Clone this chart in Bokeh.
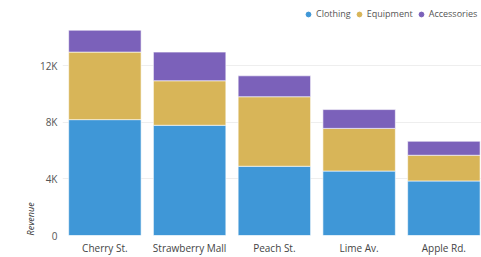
import numpy as np
from bokeh.plotting import figure
from bokeh.models import ColumnDataSource, Range1d, FixedTicker, Legend, LegendItem, Title
from bokeh.embed import file_html
from bokeh.resources import INLINE

stores = ["Cherry St.", "Strawberry Mall", "Peach St.", "Lime Av.", "Apple Rd."]
series = ["Clothing", "Equipment", "Accessories"]
clothing = [8200, 7800, 4900, 4560, 3860]
equipment = [4780, 3150, 4920, 3020, 1820]
accessories = [1550, 2030, 1480, 1330, 990]
colors = ["#3f97d7", "#d8b558", "#7b61ba"]
y_ticks = [0, 4000, 8000, 12000]
y_tick_labels = ["0", "4K", "8K", "12K"]

xs = list(range(len(stores)))
source = ColumnDataSource(dict(x=xs, Clothing=clothing, Equipment=equipment, Accessories=accessories))

p = figure(width=481, height=257, output_backend="svg", toolbar_location=None,
           x_range=Range1d(-0.5, 4.444), y_range=Range1d(0, 16630),
           min_border_left=62, min_border_right=0, min_border_top=0, min_border_bottom=20)
p.outline_line_color = None
p.background_fill_color = "white"

p.vbar_stack(series, x="x", width=0.855, color=colors, source=source,
             line_color="white", line_width=1, line_alpha=0.6)

FONT = "Open Sans"
# x axis
p.xaxis.ticker = FixedTicker(ticks=xs)
p.xaxis.major_label_overrides = {i: s for i, s in zip(xs, stores)}
p.xaxis.axis_line_color = None
p.xaxis.major_tick_line_color = None
p.xaxis.minor_tick_line_color = None
p.xaxis.major_tick_out = 0
p.xaxis.major_tick_in = 0
p.xaxis.minor_tick_out = 0
p.xaxis.major_label_standoff = 5
p.xaxis.major_label_text_font = FONT
p.xaxis.major_label_text_font_size = "10px"
p.xaxis.major_label_text_color = "#444444"
p.xgrid.grid_line_color = None

# y axis
p.yaxis.ticker = FixedTicker(ticks=y_ticks)
p.yaxis.major_label_overrides = {t: l for t, l in zip(y_ticks, y_tick_labels)}
p.yaxis.axis_line_color = None
p.yaxis.major_tick_line_color = None
p.yaxis.minor_tick_line_color = None
p.yaxis.major_tick_out = 0
p.yaxis.major_tick_in = 0
p.yaxis.minor_tick_out = 0
p.yaxis.major_label_standoff = 5
p.yaxis.major_label_text_font = FONT
p.yaxis.major_label_text_font_size = "10px"
p.yaxis.major_label_text_color = "#555555"
p.ygrid.grid_line_color = "#eeeeee"
p.ygrid.ticker = FixedTicker(ticks=y_ticks)

# y axis title, aligned to the bottom like the reference
p.add_layout(Title(text="Revenue", align="left", text_font=FONT, text_font_size="9px",
                   text_font_style="italic", text_color="#333333", standoff=0, offset=0),
             "left")

# legend with circle markers
items = []
for name, c in zip(series, colors):
    r = p.scatter(x=[np.nan], y=[np.nan], marker="circle", size=6, fill_color=c, line_color=c)
    items.append(LegendItem(label=name, renderers=[r]))
legend = Legend(items=items, orientation="horizontal", location=(240, 215),
                glyph_width=12, glyph_height=12, label_standoff=2, spacing=2,
                padding=0, margin=0, border_line_color=None, background_fill_alpha=0,
                label_text_font=FONT, label_text_font_size="9px", label_text_color="#555555")
p.add_layout(legend, "center")

open("out.html", "w").write(file_html(p, INLINE))
